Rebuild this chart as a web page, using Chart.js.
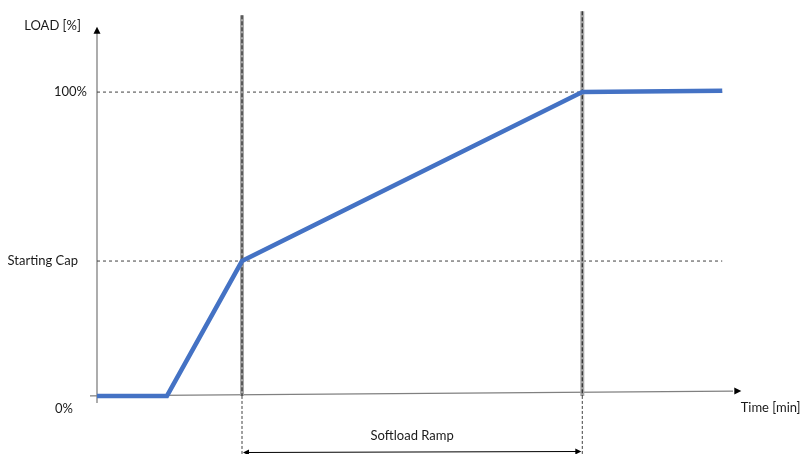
<!DOCTYPE html>
<html lang="en">
<head>
    <meta charset="UTF-8">
    <title>Softload Ramp</title>
    <script src="https://cdn.jsdelivr.net/npm/chart.js@4/dist/chart.umd.min.js"></script>
    <style>
        html, body { margin: 0; padding: 0; background: #fff; }
        #wrap { width: 803px; height: 454px; }
    </style>
</head>
<body>
    <div id="wrap"><canvas id="rampChart"></canvas></div>
    <script>
        // load curve (time in arbitrary minutes, load in %)
        const loadTime = [0, 11, 22.8, 76.3, 98.3];
        const loadValue = [0, 0, 44.4, 100, 100.4];

        // reference levels on the y axis
        const yTickValues = [0, 44.4, 100];
        const yTickLabels = ['0%', 'Starting Cap', '100%'];

        // ramp start / end markers
        const markerTimes = [22.8, 76.3];
        const markerTops = [125.3, 126.6];

        const axisTitleY = 'LOAD [%]';
        const axisTitleX = 'Time [min]';
        const rampLabel = 'Softload Ramp';

        const xMin = -15.25, xMax = 111, yMin = -19.1, yMax = 130.3;
        const refEnd = 98.3;
        const FONT = '13px Lato, "Liberation Sans", sans-serif';

        const pts = (xs, ys) => xs.map((x, i) => ({ x: x, y: ys[i] }));

        // lower "order" is drawn on top
        const datasets = [];
        // dashed reference lines at Starting Cap and 100%
        yTickValues.slice(1).forEach(v => {
            datasets.push({
                data: [{ x: 0, y: v }, { x: refEnd, y: v }],
                borderColor: '#404040', borderWidth: 1, borderDash: [3, 3], order: 4
            });
        });
        // vertical markers: thick gray bar with dark dashes on top, thin dashed tail below axis
        markerTimes.forEach((t, i) => {
            datasets.push({
                data: [{ x: t, y: markerTops[i] }, { x: t, y: 0 }],
                borderColor: '#a6a6a6', borderWidth: 4, order: 3
            });
            datasets.push({
                data: [{ x: t, y: markerTops[i] }, { x: t, y: 0 }],
                borderColor: '#333333', borderWidth: 1.3, borderDash: [4, 2], order: 2
            });
            datasets.push({
                data: [{ x: t, y: 0 }, { x: t, y: yMin }],
                borderColor: '#404040', borderWidth: 1, borderDash: [3, 2], order: 2
            });
        });
        // the load curve itself
        datasets.push({
            data: pts(loadTime, loadValue),
            borderColor: '#4472c4', borderWidth: 4.5,
            borderCapStyle: 'butt', borderJoinStyle: 'miter', order: 1
        });

        function arrowHead(ctx, x, y, angle, len, half) {
            ctx.save();
            ctx.translate(x, y);
            ctx.rotate(angle);
            ctx.beginPath();
            ctx.moveTo(0, 0);
            ctx.lineTo(-len, -half);
            ctx.lineTo(-len, half);
            ctx.closePath();
            ctx.fill();
            ctx.restore();
        }

        const annotations = {
            id: 'annotations',
            beforeDatasetsDraw(chart) {
                const ctx = chart.ctx;
                const xs = chart.scales.x, ys = chart.scales.y;
                ctx.save();
                ctx.strokeStyle = '#808080';
                ctx.fillStyle = '#000';
                ctx.lineWidth = 1.3;
                // y axis with arrow
                const ax = xs.getPixelForValue(0);
                const ay0 = ys.getPixelForValue(0);
                ctx.beginPath();
                ctx.moveTo(ax, ay0 + 7);
                ctx.lineTo(ax, ys.getPixelForValue(120));
                ctx.stroke();
                arrowHead(ctx, ax, ys.getPixelForValue(121.5), -Math.PI / 2, 7, 3.5);
                // x axis (slightly tilted like the original) with arrow
                const x1 = xs.getPixelForValue(-1.1), y1 = ys.getPixelForValue(0);
                const x2 = xs.getPixelForValue(100), y2 = ys.getPixelForValue(1.6);
                ctx.beginPath();
                ctx.moveTo(x1, y1);
                ctx.lineTo(x2, y2);
                ctx.stroke();
                arrowHead(ctx, xs.getPixelForValue(101.3), y2 - 0.1, Math.atan2(y2 - y1, x2 - x1), 7, 3.5);
                ctx.restore();
            },
            afterDatasetsDraw(chart) {
                const ctx = chart.ctx;
                const xs = chart.scales.x, ys = chart.scales.y;
                ctx.save();
                ctx.font = FONT;
                ctx.fillStyle = '#1a1a1a';
                ctx.textBaseline = 'middle';
                // y labels
                ctx.textAlign = 'right';
                ctx.fillText(axisTitleY, 81, ys.getPixelForValue(121.5) - 1);
                ctx.fillText(yTickLabels[2], 87, ys.getPixelForValue(yTickValues[2]));
                ctx.fillText(yTickLabels[1], 78, ys.getPixelForValue(yTickValues[1]));
                ctx.textAlign = 'center';
                ctx.fillText(yTickLabels[0], 64, ys.getPixelForValue(0) + 13);
                // x label
                ctx.textAlign = 'left';
                ctx.fillText(axisTitleX, xs.getPixelForValue(101.2), ys.getPixelForValue(0) + 12);
                // ramp label and double arrow
                const rx1 = xs.getPixelForValue(markerTimes[0]);
                const rx2 = xs.getPixelForValue(markerTimes[1]);
                ctx.textAlign = 'center';
                ctx.fillText(rampLabel, (rx1 + rx2) / 2, 436);
                const ry = 452;
                ctx.strokeStyle = '#000';
                ctx.fillStyle = '#000';
                ctx.lineWidth = 1;
                ctx.beginPath();
                ctx.moveTo(rx1 + 4, ry + 0.5);
                ctx.lineTo(rx2 - 4, ry - 0.5);
                ctx.stroke();
                arrowHead(ctx, rx1 + 1, ry + 0.5, Math.PI, 6, 3);
                arrowHead(ctx, rx2 - 1, ry - 0.5, 0, 6, 3);
                ctx.restore();
            }
        };

        Chart.defaults.font.family = 'Lato, "Liberation Sans", sans-serif';

        new Chart(document.getElementById('rampChart'), {
            type: 'scatter',
            data: { datasets: datasets },
            options: {
                responsive: true,
                maintainAspectRatio: false,
                animation: false,
                layout: { padding: 0 },
                elements: {
                    point: { radius: 0, hoverRadius: 0 },
                    line: { tension: 0, fill: false }
                },
                datasets: { scatter: { showLine: true } },
                plugins: {
                    legend: { display: false },
                    tooltip: { enabled: false }
                },
                scales: {
                    x: { type: 'linear', min: xMin, max: xMax, display: false },
                    y: { type: 'linear', min: yMin, max: yMax, display: false }
                }
            },
            plugins: [annotations]
        });
    </script>
</body>
</html>
